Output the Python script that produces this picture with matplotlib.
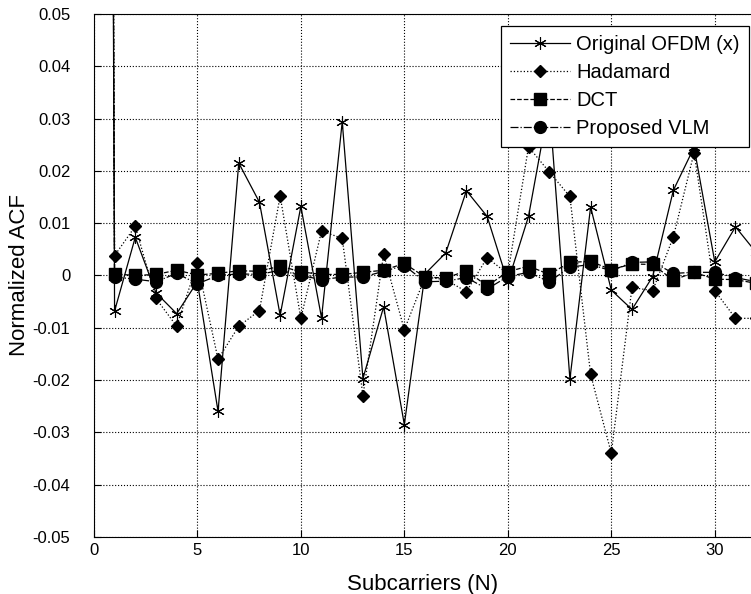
import numpy as np
import matplotlib
matplotlib.use("Agg")
import matplotlib.pyplot as plt

plt.rcParams['font.family'] = ['Liberation Sans', 'DejaVu Sans']

# subcarrier index (lag 0 is the normalised peak = 1)
n = list(range(0, 33))

ofdm = [1, -0.0068, 0.0073, -0.0033, -0.0073, -0.0012, -0.0260, 0.0215, 0.0140,
        -0.0076, 0.0132, -0.0081, 0.0294, -0.0197, -0.0060, -0.0285, 0.0003,
        0.0043, 0.0162, 0.0113, -0.0013, 0.0113, 0.0330, -0.0198, 0.0131,
        -0.0028, -0.0065, -0.0002, 0.0163, 0.0245, 0.0026, 0.0093, 0.0044]
hadamard = [1, 0.0038, 0.0094, -0.0044, -0.0097, 0.0023, -0.0160, -0.0097, -0.0067,
            0.0152, -0.0082, 0.0085, 0.0071, -0.0230, 0.0041, -0.0104, -0.0003,
            -0.0008, -0.0031, 0.0034, 0.0003, 0.0246, 0.0198, 0.0151, -0.0189,
            -0.0340, -0.0023, -0.0029, 0.0074, 0.0235, -0.0029, -0.0082, -0.0082]
dct = [1, 0.0003, 0.0000, 0.0002, 0.0010, 0.0001, 0.0004, 0.0009, 0.0008,
       0.0018, 0.0007, 0.0002, 0.0002, 0.0006, 0.0010, 0.0023, -0.0003,
       -0.0005, 0.0009, -0.0020, 0.0007, 0.0018, 0.0002, 0.0025, 0.0027,
       0.0011, 0.0022, 0.0021, -0.0009, 0.0006, -0.0007, -0.0008, -0.0015]
vlm = [1, -0.0003, -0.0007, -0.0012, 0.0004, -0.0016, 0.0000, 0.0003, 0.0002,
       0.0010, 0.0000, -0.0008, -0.0003, -0.0003, 0.0008, 0.0019, -0.0012,
       -0.0011, -0.0004, -0.0026, -0.0002, 0.0006, -0.0012, 0.0016, 0.0021,
       0.0009, 0.0025, 0.0026, 0.0004, 0.0006, 0.0006, -0.0004, -0.0012]

xticks = [0, 5, 10, 15, 20, 25, 30]
yticks = [-0.05, -0.04, -0.03, -0.02, -0.01, 0, 0.01, 0.02, 0.03, 0.04, 0.05]
ytick_labels = ['-0.05', '-0.04', '-0.03', '-0.02', '-0.01', '0',
                '0.01', '0.02', '0.03', '0.04', '0.05']

fig = plt.figure(figsize=(7.51, 5.94), dpi=100)
ax = fig.add_axes([0.125, 0.096, 0.875, 0.8805])

ax.plot(n, ofdm, '-', color='black', lw=0.9, marker=(6, 2, 0), ms=9, mew=0.8,
        label='Original OFDM (x)')
ax.plot(n, hadamard, ':', color='black', lw=0.9, marker='D', ms=6,
        label='Hadamard')
ax.plot(n, dct, '--', color='black', lw=0.9, marker='s', ms=8.5,
        label='DCT')
ax.plot(n, vlm, '-.', color='black', lw=0.9, marker='o', ms=8.5,
        label='Proposed VLM')

ax.set_xlim(0, 31.75)
ax.set_ylim(-0.05, 0.05)
ax.set_xticks(xticks)
ax.set_xticklabels([str(t) for t in xticks])
ax.set_yticks(yticks)
ax.set_yticklabels(ytick_labels)
ax.tick_params(direction='in', labelsize=12, length=5)
ax.tick_params(axis='y', pad=17)
ax.tick_params(axis='x', pad=4)
ax.grid(True, linestyle=':', color='black', lw=0.8)
ax.spines['right'].set_visible(False)

ax.set_xlabel('Subcarriers (N)', fontsize=16, labelpad=11.5)
ax.set_ylabel('Normalized ACF', fontsize=16, labelpad=2)

leg = ax.legend(loc='upper right', bbox_to_anchor=(0.997, 0.977), fontsize=14.5,
                fancybox=False, framealpha=1, edgecolor='black',
                handlelength=3.0, borderpad=0.45, labelspacing=0.45,
                handletextpad=0.3, borderaxespad=0)
leg.get_frame().set_linewidth(0.9)

fig.savefig('out.png', dpi=100)
